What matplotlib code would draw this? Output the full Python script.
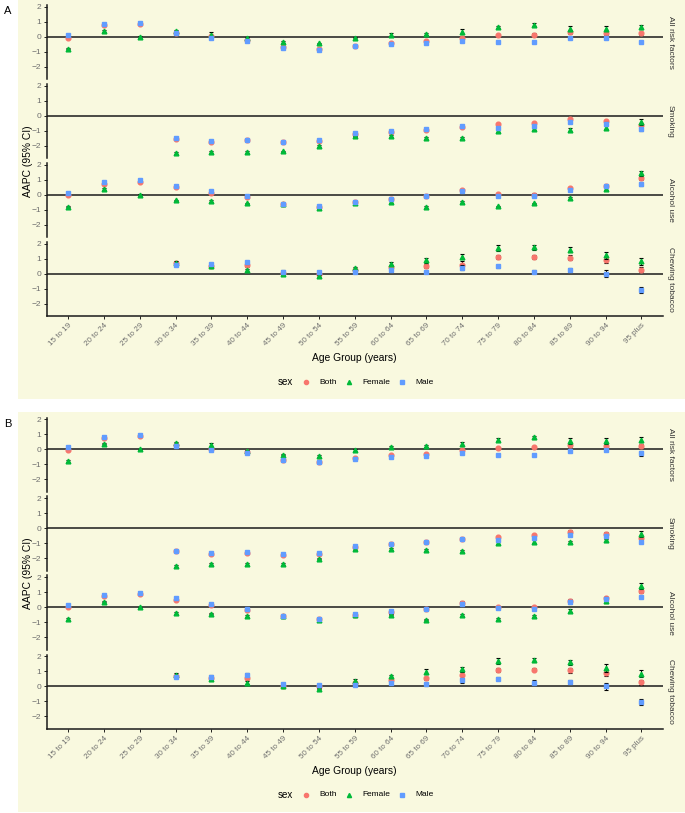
import numpy as np
import matplotlib
matplotlib.use("Agg")
import matplotlib.pyplot as plt
from matplotlib.lines import Line2D
from matplotlib.patches import Rectangle

plt.rcParams['font.family'] = ['Liberation Sans', 'DejaVu Sans']

nan = np.nan

age_groups = ['15 to 19', '20 to 24', '25 to 29', '30 to 34', '35 to 39', '40 to 44',
              '45 to 49', '50 to 54', '55 to 59', '60 to 64', '65 to 69', '70 to 74',
              '75 to 79', '80 to 84', '85 to 89', '90 to 94', '95 plus']
facets = ['All risk factors', 'Smoking', 'Alcohol use', 'Chewing tobacco']
sexes = ['Both', 'Female', 'Male']
sex_colors = ['#F8766D', '#00BA38', '#619CFF']
sex_markers = ['o', '^', 's']

# AAPC estimates (panel A)
allrisk_both = [-0.05, 0.78, 0.88, 0.28, 0.05, -0.2, -0.7, -0.85, -0.6, -0.4, -0.3, -0.05, 0.1, 0.15, 0.3, 0.25, 0.25]
allrisk_female = [-0.8, 0.38, 0.0, 0.4, 0.15, -0.1, -0.35, -0.45, -0.05, 0.15, 0.2, 0.35, 0.65, 0.8, 0.55, 0.55, 0.65]
allrisk_male = [0.12, 0.82, 0.95, 0.22, -0.05, -0.25, -0.75, -0.88, -0.65, -0.5, -0.45, -0.28, -0.35, -0.38, -0.1, -0.05, -0.35]

smoking_both = [nan, nan, nan, -1.55, -1.72, -1.65, -1.78, -1.7, -1.22, -1.08, -0.95, -0.75, -0.58, -0.47, -0.22, -0.36, -0.64]
smoking_female = [nan, nan, nan, -2.5, -2.4, -2.4, -2.38, -2.02, -1.38, -1.36, -1.47, -1.51, -1.0, -0.89, -0.93, -0.8, -0.4]
smoking_male = [nan, nan, nan, -1.5, -1.68, -1.6, -1.73, -1.65, -1.16, -1.02, -0.89, -0.69, -0.8, -0.67, -0.42, -0.53, -0.91]

alcohol_both = [0.0, 0.75, 0.87, 0.51, 0.13, -0.15, -0.6, -0.8, -0.5, -0.3, -0.1, 0.3, 0.05, 0.0, 0.42, 0.6, 1.1]
alcohol_female = [-0.8, 0.38, 0.0, -0.38, -0.42, -0.58, -0.6, -0.87, -0.55, -0.5, -0.82, -0.5, -0.78, -0.58, -0.22, 0.4, 1.42]
alcohol_male = [0.13, 0.84, 0.96, 0.6, 0.22, -0.09, -0.6, -0.76, -0.47, -0.27, -0.1, 0.25, -0.08, -0.1, 0.33, 0.58, 0.69]

chewing_both = [nan, nan, nan, 0.7, 0.55, 0.58, 0.05, 0.0, 0.25, 0.45, 0.53, 0.6, 1.11, 1.11, 1.07, 0.89, 0.27]
chewing_female = [nan, nan, nan, 0.75, 0.5, 0.22, 0.0, -0.15, 0.38, 0.67, 0.89, 1.13, 1.71, 1.76, 1.6, 1.22, 0.84]
chewing_male = [nan, nan, nan, 0.6, 0.65, 0.78, 0.15, 0.1, 0.1, 0.22, 0.12, 0.4, 0.51, 0.13, 0.27, 0.0, -1.07]

# 95% CI half widths
allrisk_both_ci = [0.04, 0.04, 0.04, 0.04, 0.05, 0.04, 0.04, 0.04, 0.04, 0.04, 0.05, 0.05, 0.06, 0.08, 0.14, 0.16, 0.1]
allrisk_female_ci = [0.05, 0.05, 0.05, 0.06, 0.16, 0.08, 0.05, 0.06, 0.05, 0.08, 0.08, 0.16, 0.08, 0.1, 0.17, 0.17, 0.14]
allrisk_male_ci = [0.04, 0.04, 0.04, 0.04, 0.04, 0.04, 0.04, 0.04, 0.04, 0.04, 0.04, 0.04, 0.05, 0.05, 0.06, 0.08, 0.08]

smoking_both_ci = [nan, nan, nan, 0.05, 0.05, 0.05, 0.05, 0.05, 0.05, 0.05, 0.05, 0.05, 0.08, 0.08, 0.08, 0.1, 0.14]
smoking_female_ci = [nan, nan, nan, 0.06, 0.06, 0.06, 0.06, 0.06, 0.06, 0.06, 0.06, 0.06, 0.08, 0.08, 0.08, 0.1, 0.2]
smoking_male_ci = [nan, nan, nan, 0.05, 0.05, 0.05, 0.05, 0.05, 0.05, 0.05, 0.05, 0.05, 0.06, 0.06, 0.08, 0.1, 0.1]

alcohol_both_ci = [0.04, 0.04, 0.04, 0.04, 0.04, 0.04, 0.04, 0.04, 0.04, 0.05, 0.05, 0.1, 0.06, 0.1, 0.1, 0.08, 0.14]
alcohol_female_ci = [0.05, 0.05, 0.05, 0.05, 0.05, 0.05, 0.05, 0.05, 0.05, 0.05, 0.06, 0.06, 0.06, 0.06, 0.08, 0.1, 0.18]
alcohol_male_ci = [0.04, 0.04, 0.04, 0.04, 0.04, 0.04, 0.04, 0.04, 0.04, 0.04, 0.04, 0.06, 0.06, 0.06, 0.08, 0.08, 0.08]

chewing_both_ci = [nan, nan, nan, 0.08, 0.06, 0.1, 0.06, 0.06, 0.08, 0.1, 0.12, 0.22, 0.14, 0.12, 0.17, 0.2, 0.18]
chewing_female_ci = [nan, nan, nan, 0.12, 0.08, 0.1, 0.06, 0.06, 0.08, 0.1, 0.18, 0.16, 0.2, 0.15, 0.18, 0.24, 0.24]
chewing_male_ci = [nan, nan, nan, 0.08, 0.08, 0.1, 0.08, 0.08, 0.06, 0.08, 0.08, 0.16, 0.1, 0.1, 0.14, 0.22, 0.2]

# panel B differs from A only in a few cells: (facet, sex, age index) -> (value, ci)
panel_b_changes = {
    ('All risk factors', 'Female', 4): (0.3, 0.12),
    ('All risk factors', 'Male', 16): (-0.28, 0.17),
    ('Chewing tobacco', 'Both', 11): (0.75, 0.2),
    ('Chewing tobacco', 'Female', 10): (0.97, 0.18),
    ('Chewing tobacco', 'Male', 13): (0.25, 0.16),
}

values_a = {
    'All risk factors': [allrisk_both, allrisk_female, allrisk_male],
    'Smoking': [smoking_both, smoking_female, smoking_male],
    'Alcohol use': [alcohol_both, alcohol_female, alcohol_male],
    'Chewing tobacco': [chewing_both, chewing_female, chewing_male],
}
ci_a = {
    'All risk factors': [allrisk_both_ci, allrisk_female_ci, allrisk_male_ci],
    'Smoking': [smoking_both_ci, smoking_female_ci, smoking_male_ci],
    'Alcohol use': [alcohol_both_ci, alcohol_female_ci, alcohol_male_ci],
    'Chewing tobacco': [chewing_both_ci, chewing_female_ci, chewing_male_ci],
}

# panel B data
values_b = {f: [list(s) for s in v] for f, v in values_a.items()}
ci_b = {f: [list(s) for s in v] for f, v in ci_a.items()}
for (f, s, i), (v, c) in panel_b_changes.items():
    values_b[f][sexes.index(s)][i] = v
    ci_b[f][sexes.index(s)][i] = c

W, H = 685, 813
fig = plt.figure(figsize=(W / 100, H / 100), dpi=100)
bg = '#F9F9DF'
grey = '#6E6E6E'


def px_axes(left, top, width, height):
    return fig.add_axes([left / W, 1 - (top + height) / H, width / W, height / H])


def draw_panel(offset, letter, values, cis):
    fig.add_artist(Rectangle((18 / W, 1 - (offset + 399) / H), (W - 18) / W, 399 / H,
                             transform=fig.transFigure, facecolor=bg, edgecolor='none', zorder=-10))
    fig.text(4 / W, 1 - (offset + 11) / H, letter, fontsize=8, ha='left', va='center')

    x = np.arange(len(age_groups))
    for k, facet in enumerate(facets):
        ax = px_axes(46.5, offset + 5 + k * 79, 616.5, 74.3)
        ax.set_facecolor('none')
        ax.axhline(0, color='#1a1a1a', lw=1.1, zorder=1)
        # error bars first, points drawn on top of them
        for j, sex in enumerate(sexes):
            y = np.array(values[facet][j], dtype=float)
            e = np.array(cis[facet][j], dtype=float)
            ax.errorbar(x, y, yerr=e, fmt='none', ecolor='black', elinewidth=0.7,
                        capsize=1.6, capthick=0.8, zorder=2 + 2 * j)
        for j, sex in enumerate(sexes):
            y = np.array(values[facet][j], dtype=float)
            ax.plot(x, y, ls='none', marker=sex_markers[j], ms=3.4, color=sex_colors[j],
                    mec=sex_colors[j], zorder=3 + 2 * j)
        ax.set_xlim(-0.6, 16.6)
        ax.set_ylim(-2.84, 2.12)
        ax.set_yticks([-2, -1, 0, 1, 2])
        ax.tick_params(axis='y', labelsize=6, labelcolor=grey, length=2.2, width=0.6, pad=1.5)
        for side in ['top', 'right', 'bottom']:
            ax.spines[side].set_visible(False)
        ax.spines['left'].set_linewidth(1.1)
        ax.spines['left'].set_color('#1a1a1a')
        ax.text(1.006, 0.5, facet, transform=ax.transAxes, rotation=-90, fontsize=6,
                color='#333333', ha='left', va='center')
        if k == len(facets) - 1:
            ax.spines['bottom'].set_visible(True)
            ax.spines['bottom'].set_linewidth(1.1)
            ax.spines['bottom'].set_color('#1a1a1a')
            ax.set_xticks(x)
            ax.set_xticklabels(age_groups, rotation=45, ha='right', rotation_mode='anchor')
            ax.tick_params(axis='x', labelsize=5.8, labelcolor=grey, length=2.2, width=0.6, pad=2)
            ax.set_xlabel('Age Group (years)', fontsize=7.4, labelpad=4)
        else:
            ax.set_xticks([])

    fig.text(28 / W, 1 - (offset + 161) / H, 'AAPC (95% CI)', rotation=90, fontsize=7.4,
             ha='center', va='center')

    # legend row
    ly = 1 - (offset + 382) / H
    fig.text(278 / W, ly, 'sex', fontsize=7, ha='left', va='center')
    for j, (sex, xm, xt) in enumerate(zip(sexes, [306, 349, 402], [319, 362, 415])):
        fig.add_artist(Line2D([xm / W], [ly], transform=fig.transFigure, ls='none',
                              marker=sex_markers[j], ms=3, color=sex_colors[j]))
        fig.text(xt / W, ly, sex, fontsize=6, ha='left', va='center')


draw_panel(0, 'A', values_a, ci_a)
draw_panel(412.5, 'B', values_b, ci_b)

fig.savefig('out.png', dpi=100, facecolor='white')
